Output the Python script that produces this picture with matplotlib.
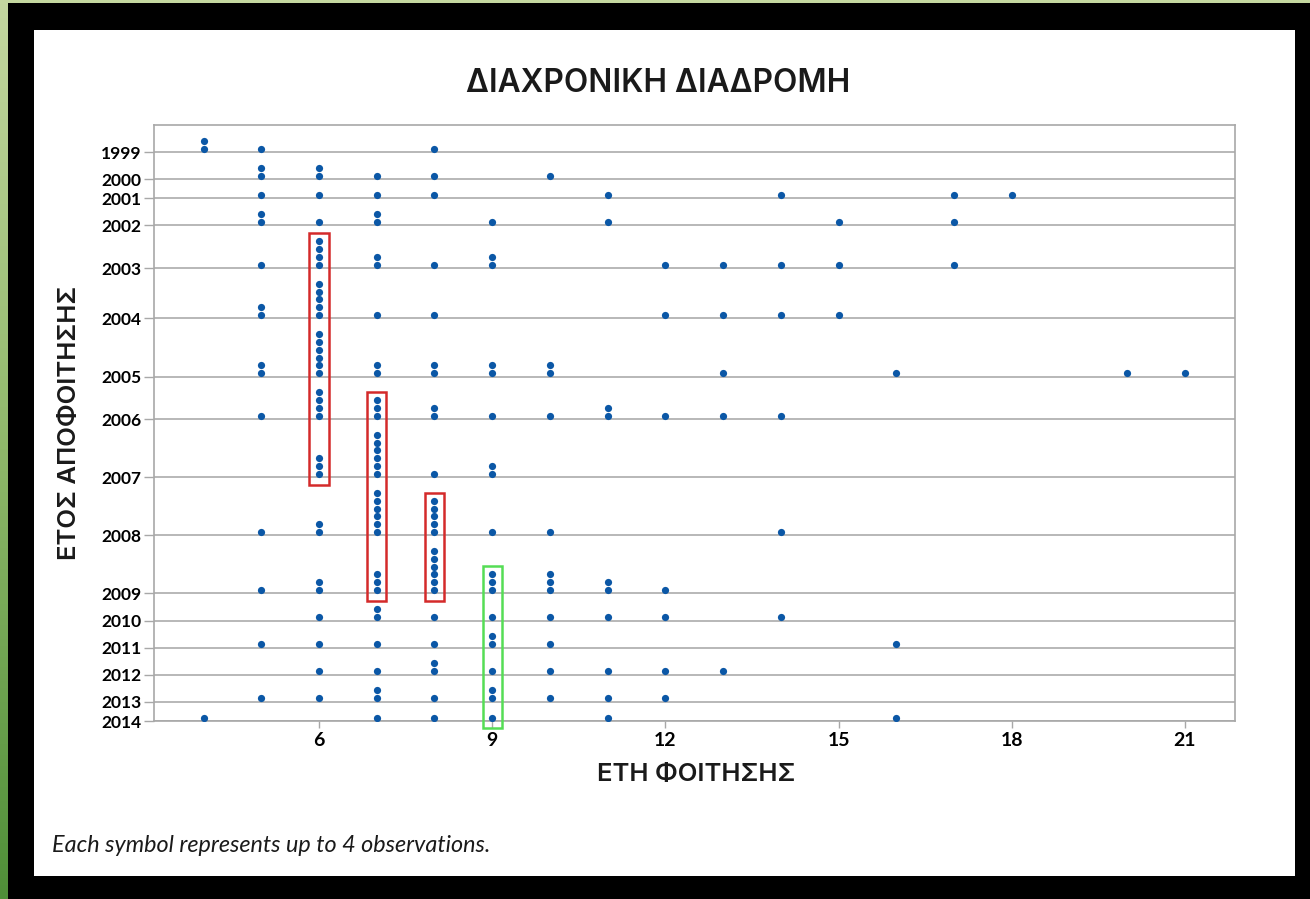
import matplotlib
matplotlib.use('Agg')
import matplotlib.pyplot as plt
import numpy as np
from matplotlib.patches import Rectangle
from matplotlib.colors import LinearSegmentedColormap

plt.rcParams['font.family'] = ['Lato', 'DejaVu Sans']
GREEK_FONT = ['Inter', 'DejaVu Sans']

# ---------------- data ----------------
years = [1999, 2000, 2001, 2002, 2003, 2004, 2005, 2006,
         2007, 2008, 2009, 2010, 2011, 2012, 2013, 2014]

# symbols per (years of study) for each graduation year
row_1999 = {4: 2, 5: 1, 8: 1}
row_2000 = {5: 2, 6: 2, 7: 1, 8: 1, 10: 1}
row_2001 = {5: 1, 6: 1, 7: 1, 8: 1, 11: 1, 14: 1, 17: 1, 18: 1}
row_2002 = {5: 2, 6: 1, 7: 2, 9: 1, 11: 1, 15: 1, 17: 1}
row_2003 = {5: 1, 6: 4, 7: 2, 8: 1, 9: 2, 12: 1, 13: 1, 14: 1, 15: 1, 17: 1}
row_2004 = {5: 2, 6: 5, 7: 1, 8: 1, 12: 1, 13: 1, 14: 1, 15: 1}
row_2005 = {5: 2, 6: 6, 7: 2, 8: 2, 9: 2, 10: 2, 13: 1, 16: 1, 20: 1, 21: 1}
row_2006 = {5: 1, 6: 4, 7: 3, 8: 2, 9: 1, 10: 1, 11: 2, 12: 1, 13: 1, 14: 1}
row_2007 = {6: 3, 7: 6, 8: 1, 9: 2}
row_2008 = {5: 1, 6: 2, 7: 6, 8: 5, 9: 1, 10: 1, 14: 1}
row_2009 = {5: 1, 6: 2, 7: 3, 8: 6, 9: 3, 10: 3, 11: 2, 12: 1}
row_2010 = {6: 1, 7: 2, 8: 1, 9: 1, 10: 1, 11: 1, 12: 1, 14: 1}
row_2011 = {5: 1, 6: 1, 7: 1, 8: 1, 9: 2, 10: 1, 16: 1}
row_2012 = {6: 1, 7: 1, 8: 2, 9: 1, 10: 1, 11: 1, 12: 1, 13: 1}
row_2013 = {5: 1, 6: 1, 7: 2, 8: 1, 9: 2, 10: 1, 11: 1, 12: 1}
row_2014 = {4: 1, 7: 1, 8: 1, 9: 1, 11: 1, 16: 1}

rows = [row_1999, row_2000, row_2001, row_2002, row_2003, row_2004,
        row_2005, row_2006, row_2007, row_2008, row_2009, row_2010,
        row_2011, row_2012, row_2013, row_2014]

x_ticks = [6, 9, 12, 15, 18, 21]

# highlighted columns: (x, first year, last year, colour)
highlight_x = [6, 7, 8, 9]
highlight_from = [2003, 2006, 2008, 2009]
highlight_to = [2007, 2009, 2009, 2014]
highlight_col = ['#d42a2a', '#d42a2a', '#d42a2a', '#55dd55']

title = 'ΔΙΑΧΡΟΝΙΚΗ ΔΙΑΔΡΟΜΗ'
xlabel = 'ΕΤΗ ΦΟΙΤΗΣΗΣ'
ylabel = 'ΕΤΟΣ ΑΠΟΦΟΙΤΗΣΗΣ'
footnote = 'Each symbol represents up to 4 observations.'

# ---------------- layout ----------------
W, H = 1310, 899
fig = plt.figure(figsize=(W / 100, H / 100), dpi=100)
fig.patch.set_facecolor('black')

def fx(px):
    return px / W

def fy(py):
    return 1 - py / H

# green slide edge (gradient on the left, light strip on top)
gax = fig.add_axes([0, 0, fx(8), 1], zorder=-5)
grad = np.linspace(0, 1, 256).reshape(-1, 1)
gcm = LinearSegmentedColormap.from_list('g', ['#c4d7a0', '#8fb86a', '#4f8f38'])
gax.imshow(grad, aspect='auto', cmap=gcm, extent=[0, 1, 1, 0])
gax.set_axis_off()
fig.add_artist(Rectangle((0, fy(3)), 1, 3 / H, transform=fig.transFigure,
                         facecolor='#c4d7a0', edgecolor='none', zorder=-4))
# white panel
fig.add_artist(Rectangle((fx(34), fy(876)), fx(1295 - 34), (876 - 30) / H,
                         transform=fig.transFigure, facecolor='white',
                         edgecolor='none', zorder=-3))

ax_l, ax_r, ax_t, ax_b = 154, 1235, 125, 721
ax = fig.add_axes([fx(ax_l), fy(ax_b), fx(ax_r - ax_l), (ax_b - ax_t) / H])
ax.set_facecolor('white')

# row baselines: each row is as tall as its largest stack
gap = 1.484
baselines = []
pos = 0.0
for r in rows:
    pos += max(r.values()) + gap
    baselines.append(pos)
total = pos
off = 0.45

xs, ys = [], []
for base, r in zip(baselines, rows):
    for xv, c in r.items():
        for k in range(c):
            xs.append(xv)
            ys.append(base - off - k)

ax.plot(xs, ys, 'o', ms=5.2, color='#0b57a6', mew=0, zorder=3)

ax.set_xlim(3.142, 21.867)
ax.set_ylim(total, 0)

ax.set_yticks(baselines)
ax.set_yticklabels([str(y) for y in years], fontsize=12.5, fontweight='bold')
ax.set_xticks(x_ticks)
ax.set_xticklabels([str(v) for v in x_ticks], fontsize=14, fontweight='bold')
ax.yaxis.grid(True, color='#b8b8b8', lw=1.4)
ax.set_axisbelow(True)
ax.tick_params(axis='y', length=7, width=1, color='#a8a8a8', pad=2)
ax.tick_params(axis='x', length=5, width=1, color='#a8a8a8', pad=3)
for s in ax.spines.values():
    s.set_color('#a8a8a8')
    s.set_linewidth(1.2)

# highlight boxes
for hx, y0, y1, col in zip(highlight_x, highlight_from, highlight_to, highlight_col):
    i0 = years.index(y0)
    i1 = years.index(y1)
    top = baselines[i0] - off - (rows[i0][hx] - 1) - 1.05
    bot = baselines[i1] - off + 1.4
    ax.add_patch(Rectangle((hx - 0.165, top), 0.33, bot - top, fill=False,
                           edgecolor=col, lw=1.8, zorder=4, clip_on=False))

fig.text(fx(658), fy(83), title, ha='center', va='center', fontsize=22.8,
         fontweight=600, family=GREEK_FONT, color='#1a1a1a')
fig.text(fx(696), fy(774), xlabel, ha='center', va='center', fontsize=18.5,
         fontweight=600, family=GREEK_FONT, color='#1a1a1a')
fig.text(fx(70), fy(423), ylabel, ha='center', va='center', fontsize=18.5,
         fontweight=600, family=GREEK_FONT, rotation=90, color='#1a1a1a')
fig.text(fx(52), fy(845), footnote, ha='left', va='center', fontsize=16.8,
         style='italic', color='#1a1a1a')

fig.savefig('out.png', dpi=100, facecolor=fig.get_facecolor())
